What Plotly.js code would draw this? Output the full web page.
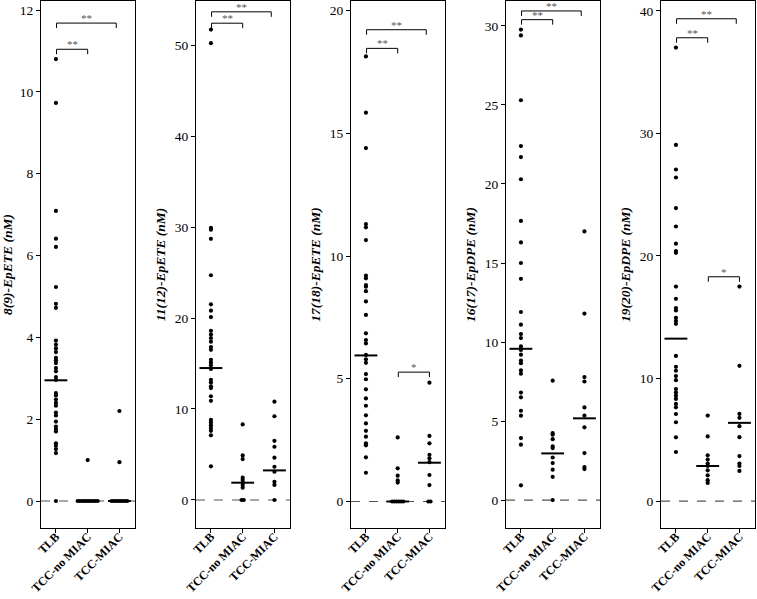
<!DOCTYPE html>
<html>
<head>
<meta charset="utf-8">
<script src="https://cdn.plot.ly/plotly-3.0.1.min.js"></script>
<style>html,body{margin:0;padding:0;background:#fff;}#chart{width:757px;height:599px;}</style>
</head>
<body>
<div id="chart"></div>
<script>
// ---------- data ----------
const categories = ["TLB", "TCC-no MIAC", "TCC-MIAC"];
const panelTitles = ["8(9)-EpETE (nM)", "11(12)-EpETE (nM)", "17(18)-EpETE (nM)", "16(17)-EpDPE (nM)", "19(20)-EpDPE (nM)"];

const p1_TLB = [10.8, 9.73, 7.09, 6.41, 6.21, 5.23, 4.82, 4.72, 3.92, 3.82, 3.73, 3.64, 3.50, 3.44, 3.37, 3.25, 3.17, 3.03, 2.96, 2.64, 2.58, 2.48, 2.40, 2.33, 2.16, 2.09, 1.94, 1.82, 1.76, 1.70, 1.41, 1.35, 1.27, 1.17, 0];
const p1_noMIAC = [1.0, 0, 0, 0, 0, 0, 0, 0, 0, 0, 0];
const p1_MIAC = [2.2, 0.95, 0, 0, 0, 0, 0, 0, 0, 0];
const p1_medians = [2.95, 0, 0];

const p2_TLB = [51.7, 50.2, 29.9, 29.7, 28.7, 24.7, 21.5, 20.8, 20.1, 18.6, 18.2, 17.8, 17.4, 16.8, 16.5, 15.4, 15.1, 14.8, 14.4, 13.2, 12.9, 12.5, 12.3, 11.4, 10.9, 8.8, 8.5, 8.2, 7.9, 7.6, 7.1, 3.7];
const p2_noMIAC = [8.3, 4.9, 4.5, 2.45, 2.2, 1.9, 1.65, 1.35, 0, 0];
const p2_MIAC = [10.8, 9.2, 6.5, 5.85, 4.65, 3.65, 3.1, 2.0, 1.65, 0];
const p2_medians = [14.5, 1.9, 3.25];

const p3_TLB = [18.13, 15.84, 14.4, 11.3, 11.17, 10.65, 9.2, 9.09, 8.82, 8.75, 8.57, 8.15, 7.6, 6.85, 6.58, 6.44, 5.97, 5.79, 5.65, 5.19, 4.98, 4.57, 4.2, 3.9, 3.51, 3.18, 2.88, 2.64, 2.37, 2.29, 1.8, 1.17];
const p3_noMIAC = [2.61, 1.35, 1.05, 0.86, 0.77, 0, 0, 0, 0, 0, 0];
const p3_MIAC = [4.84, 2.67, 2.37, 1.9, 1.76, 1.6, 1.08, 0.67, 0, 0];
const p3_medians = [5.95, 0, 1.58];

const p4_TLB = [29.77, 29.4, 25.3, 22.4, 21.7, 20.3, 17.66, 16.3, 15.0, 14.0, 11.9, 11.1, 10.5, 10.25, 9.72, 9.5, 9.2, 8.83, 8.66, 8.2, 7.99, 6.8, 6.5, 5.65, 5.34, 3.92, 3.5, 0.93];
const p4_noMIAC = [7.55, 4.23, 4.13, 3.85, 3.39, 3.29, 2.69, 2.34, 1.92, 1.47, 0];
const p4_MIAC = [17.0, 11.8, 7.78, 7.5, 5.86, 5.34, 4.6, 2.97, 2.09, 1.96];
const p4_medians = [9.57, 2.95, 5.17];

const p5_TLB = [37.0, 29.06, 27.05, 26.4, 23.9, 22.4, 21.0, 20.4, 20.25, 17.5, 16.5, 15.75, 15.55, 14.95, 14.7, 14.46, 11.84, 10.95, 10.63, 10.2, 9.86, 9.14, 8.86, 8.6, 8.33, 7.92, 7.65, 7.1, 6.43, 5.2, 4.0];
const p5_noMIAC = [6.97, 5.27, 3.73, 3.38, 3.06, 2.86, 2.51, 2.1, 1.7, 1.48];
const p5_MIAC = [17.5, 11.03, 7.11, 6.79, 6.11, 5.21, 3.67, 3.06, 2.86, 2.46];
const p5_medians = [13.25, 2.86, 6.38];

// significance brackets: [from category, to category, level, label]
const p1_brackets = [[0, 1, 11.04, "**"], [0, 2, 11.68, "**"]];
const p2_brackets = [[0, 1, 52.4, "**"], [0, 2, 53.65, "**"]];
const p3_brackets = [[0, 1, 18.46, "**"], [0, 2, 19.22, "**"], [1, 2, 5.27, "*"]];
const p4_brackets = [[0, 1, 30.4, "**"], [0, 2, 30.95, "**"]];
const p5_brackets = [[0, 1, 37.8, "**"], [0, 2, 39.35, "**"], [1, 2, 18.3, "*"]];

// ---------- layout settings ----------
const panels = [
  {groups: [p1_TLB, p1_noMIAC, p1_MIAC], medians: p1_medians, brackets: p1_brackets, range: [-0.66, 12.22], dtick: 2},
  {groups: [p2_TLB, p2_noMIAC, p2_MIAC], medians: p2_medians, brackets: p2_brackets, range: [-3.08, 54.84], dtick: 10},
  {groups: [p3_TLB, p3_noMIAC, p3_MIAC], medians: p3_medians, brackets: p3_brackets, range: [-1.08, 20.39], dtick: 5},
  {groups: [p4_TLB, p4_noMIAC, p4_MIAC], medians: p4_medians, brackets: p4_brackets, range: [-1.77, 31.58], dtick: 5},
  {groups: [p5_TLB, p5_noMIAC, p5_MIAC], medians: p5_medians, brackets: p5_brackets, range: [-2.2, 40.8], dtick: 10}
];

const W = 757, H = 599;
const margin = {l: 41, r: 1, t: 1, b: 71};
const plotW = W - margin.l - margin.r;
const plotH = H - margin.t - margin.b;
const panelW = 94, panelStep = 155;
const FONT = "Liberation Serif";

const traces = [];
const shapes = [];
const annotations = [];
const layout = {
  width: W, height: H, margin: margin,
  paper_bgcolor: "#fff", plot_bgcolor: "#fff",
  showlegend: false,
  font: {family: FONT, color: "#000", size: 13}
};

function spread(values, center) {
  // spread identical values horizontally around the category center
  const counts = {}, seen = {};
  values.forEach(v => { counts[v] = (counts[v] || 0) + 1; });
  return values.map(v => {
    const n = counts[v];
    const k = seen[v] || 0; seen[v] = k + 1;
    const step = Math.min(0.07, 0.66 / Math.max(1, n - 1));
    return center + (k - (n - 1) / 2) * step;
  });
}

panels.forEach((p, i) => {
  const sfx = i === 0 ? "" : String(i + 1);
  const xa = "x" + sfx, ya = "y" + sfx;
  const d0 = (panelStep * i) / plotW;
  const d1 = Math.min(1, (panelStep * i + panelW) / plotW);
  const span = p.range[1] - p.range[0];
  const tickLen = 5 * span / plotH;

  layout["xaxis" + sfx] = {
    domain: [d0, d1], anchor: ya, range: [-0.47, 2.49],
    tickmode: "array", tickvals: [0, 1, 2], ticktext: categories,
    tickangle: -45, ticks: "outside", ticklen: 4, tickcolor: "#000",
    ticklabelstandoff: -8,
    tickfont: {family: FONT, size: 12, weight: "bold", color: "#000"},
    showline: true, linecolor: "#000", linewidth: 1, mirror: true,
    showgrid: false, zeroline: false, fixedrange: true
  };
  layout["yaxis" + sfx] = {
    domain: [0, 1], anchor: xa, range: p.range, dtick: p.dtick, tick0: 0,
    ticks: "outside", ticklen: 4, tickcolor: "#000",
    tickfont: {family: FONT, size: 13.5, color: "#000"},
    showline: true, linecolor: "#000", linewidth: 1, mirror: true,
    showgrid: false, zeroline: false, fixedrange: true,
    title: {text: panelTitles[i], standoff: 6,
            font: {family: FONT, size: 13.5, weight: "bold", style: "italic", color: "#000"}}
  };

  // dashed zero line
  shapes.push({type: "line", xref: xa + " domain", yref: ya, x0: 0, x1: 1, y0: 0, y1: 0,
               line: {color: "#555", width: 1.2, dash: "dash"}, layer: "below"});

  // points
  p.groups.forEach((vals, c) => {
    traces.push({
      type: "scatter", mode: "markers", xaxis: xa, yaxis: ya,
      x: spread(vals, c), y: vals,
      marker: {color: "#000", size: 4.2}, hoverinfo: "y"
    });
  });

  // medians
  p.medians.forEach((m, c) => {
    traces.push({
      type: "scatter", mode: "lines", xaxis: xa, yaxis: ya,
      x: [c - 0.36, c + 0.36], y: [m, m],
      line: {color: "#000", width: 2}, hoverinfo: "skip"
    });
  });

  // brackets
  p.brackets.forEach(b => {
    const xL = b[0] + 0.02, xR = b[1] - (b[1] - b[0] > 1 ? 0.1 : 0);
    traces.push({
      type: "scatter", mode: "lines", xaxis: xa, yaxis: ya,
      x: [xL, xL, xR, xR], y: [b[2] - tickLen, b[2], b[2], b[2] - tickLen],
      line: {color: "#000", width: 1}, hoverinfo: "skip"
    });
    annotations.push({
      xref: xa, yref: ya, x: (xL + xR) / 2, y: b[2], text: b[3],
      showarrow: false, yanchor: "bottom", yshift: -3,
      font: {family: FONT, size: 11, color: "#555"}
    });
  });
});

layout.shapes = shapes;
layout.annotations = annotations;

Plotly.newPlot("chart", traces, layout, {displayModeBar: false, staticPlot: true});
</script>
</body>
</html>
